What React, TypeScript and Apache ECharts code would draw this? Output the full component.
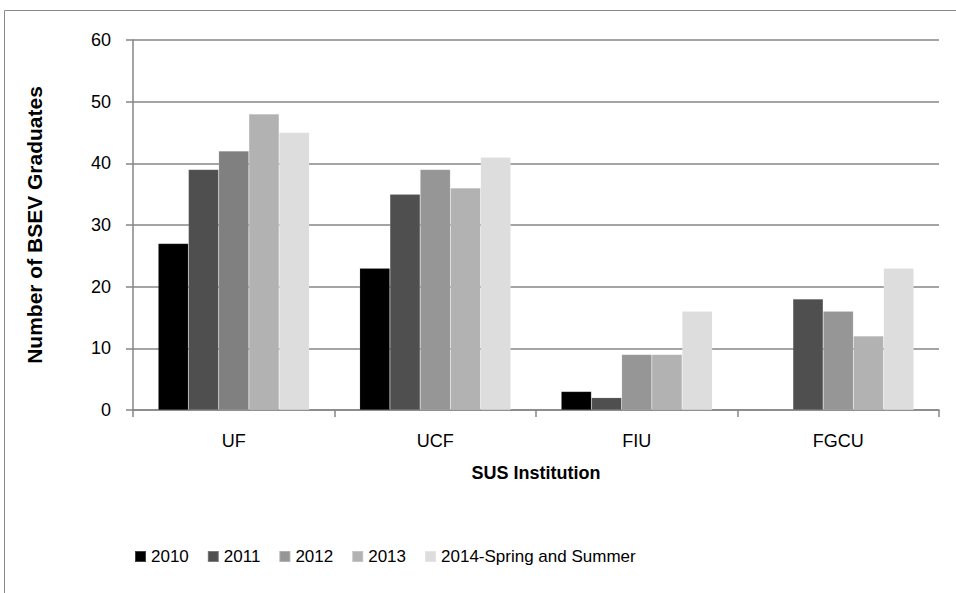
import React, { useEffect, useRef } from "react";
import * as echarts from "echarts";

const categories = ["UF", "UCF", "FIU", "FGCU"];
const seriesNames = ["2010", "2011", "2012", "2013", "2014-Spring and Summer"];
const v2010 = [27, 23, 3, null];
const v2011 = [39, 35, 2, 18];
const v2012 = [42, 39, 9, 16];
const v2013 = [48, 36, 9, 12];
const v2014 = [45, 41, 16, 23];
const colors = ["#000000", "#4f4f4f", "#969696", "#b2b2b2", "#dddddd"];

const FONT = "'Liberation Sans'";

export default function App() {
  const ref = useRef<HTMLDivElement>(null);
  useEffect(() => {
    const chart = echarts.init(ref.current!, undefined, { renderer: "svg" });
    const all = [v2010, v2011, v2012, v2013, v2014];
    chart.setOption({
      animation: false,
      backgroundColor: "#ffffff",
      graphic: [
        {
          type: "rect",
          shape: { x: 4.5, y: 10.5, width: 1000, height: 700 },
          style: { fill: "none", stroke: "#8a8a8a", lineWidth: 1 },
          z: -1,
        },
      ],
      grid: { left: 133, top: 40, right: 17, bottom: 183 },
      legend: {
        bottom: 23,
        left: 129,
        itemWidth: 11,
        itemHeight: 11,
        itemGap: 18,
        icon: "rect",
        textStyle: { fontFamily: FONT, fontSize: 17, color: "#000" },
        data: seriesNames,
      },
      xAxis: {
        type: "category",
        data: categories,
        name: "SUS Institution",
        nameLocation: "middle",
        nameGap: 54,
        nameTextStyle: { fontFamily: FONT, fontSize: 18, fontWeight: "bold", color: "#000" },
        axisLine: { lineStyle: { color: "#868686", width: 1.5 } },
        axisTick: { show: true, length: 7, lineStyle: { color: "#868686", width: 1.5 } },
        axisLabel: { fontFamily: FONT, fontSize: 18, color: "#000", margin: 22 },
      },
      yAxis: {
        type: "value",
        min: 0,
        max: 60,
        interval: 10,
        name: "Number of BSEV Graduates",
        nameLocation: "middle",
        nameGap: 88,
        nameTextStyle: { fontFamily: FONT, fontSize: 21, fontWeight: "bold", color: "#000" },
        axisLine: { show: true, lineStyle: { color: "#868686", width: 1.5 } },
        axisTick: { show: true, length: 7, lineStyle: { color: "#868686", width: 1.5 } },
        axisLabel: { fontFamily: FONT, fontSize: 18, color: "#000", margin: 22 },
        splitLine: { lineStyle: { color: "#868686", width: 1.5 } },
      },
      series: all.map((d, i) => ({
        type: "bar",
        name: seriesNames[i],
        data:
          i === 2
            ? d.map((v, j) => (j === 0 ? { value: v, itemStyle: { color: "#808080" } } : v))
            : d,
        barGap: "0%",
        barCategoryGap: "25%",
        itemStyle: { color: colors[i], borderColor: "rgba(255,255,255,0.25)", borderWidth: 0.5 },
      })),
    });
    return () => chart.dispose();
  }, []);
  return <div ref={ref} style={{ width: 956, height: 593, position: "absolute", left: 0, top: 0 }} />;
}
